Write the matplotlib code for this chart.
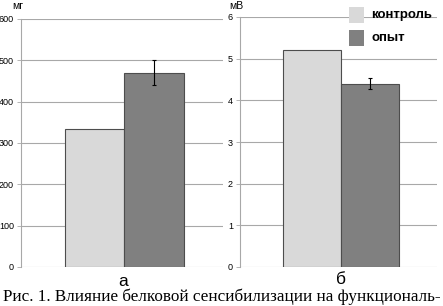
import matplotlib
matplotlib.use('Agg')
import matplotlib.pyplot as plt
from matplotlib.patches import Rectangle

groups = ['контроль', 'опыт']
mass_vals = [335, 470]
mass_err = [0, 30]
volt_vals = [5.2, 4.4]
volt_err = [0, 0.13]
panel_labels = ['а', 'б']
units = ['мг', 'мВ']
caption = 'Рис. 1. Влияние белковой сенсибилизации на функциональ-'

colors = ['#d9d9d9', '#808080']
edge = '#4d4d4d'
grid_c = '#a8a8a8'

plt.rcParams['font.family'] = ['Liberation Sans', 'DejaVu Sans']

fig = plt.figure(figsize=(4.43, 3.06), dpi=100)
ax1 = fig.add_axes([21 / 443, 39 / 306, 202 / 443, 248 / 306])
ax2 = fig.add_axes([240 / 443, 39 / 306, 197 / 443, 250 / 306])


def draw(ax, vals, errs, ymax):
    xs = [0, 1]
    ax.bar(xs, vals, width=1.0, color=colors, edgecolor=edge, linewidth=0.8, zorder=3)
    for x, v, e in zip(xs, vals, errs):
        if e:
            ax.errorbar(x, v, yerr=e, fmt='none', ecolor='black', elinewidth=0.8,
                        capsize=1.5, capthick=0.8, zorder=4)
    ax.set_xlim(-1.24, 2.16)
    ax.set_ylim(0, ymax)
    ax.set_yticks(range(0, ymax + 1, ymax // 6) if ymax > 6 else range(0, ymax + 1))
    ax.yaxis.grid(True, color=grid_c, linewidth=0.8, zorder=0)
    ax.set_xticks([])
    for s in ['top', 'right', 'bottom']:
        ax.spines[s].set_visible(False)
    ax.spines['left'].set_color(grid_c)
    ax.tick_params(axis='y', length=3, width=0.6, color=grid_c, pad=2, labelsize=6.5)


draw(ax1, mass_vals, mass_err, 600)
draw(ax2, volt_vals, volt_err, 6)

# units and panel letters
fig.text(12 / 443, 1 - 6 / 306, units[0], fontsize=7.5, ha='left', va='center')
fig.text(229 / 443, 1 - 6 / 306, units[1], fontsize=7.5, ha='left', va='center')
fig.text(123 / 443, 1 - 281 / 306, panel_labels[0], fontsize=12.5, ha='center', va='center')
fig.text(341 / 443, 1 - 280 / 306, panel_labels[1], fontsize=12.5, ha='center', va='center')

# legend
for i, (g, c) in enumerate(zip(groups, colors)):
    y0 = 1 - (7 + 23 * i) / 306
    fig.patches.append(Rectangle((349 / 443, y0 - 16 / 306), 15 / 443, 16 / 306,
                                 transform=fig.transFigure, facecolor=c, edgecolor='none'))
    fig.text(371 / 443, y0 - 8 / 306, g, fontsize=9.5, fontweight='bold', va='center', ha='left')

fig.text(0.5, 1 - 297 / 306, caption, fontsize=12.3, family='Liberation Serif',
         ha='center', va='center')

fig.savefig('out.png', dpi=100)
